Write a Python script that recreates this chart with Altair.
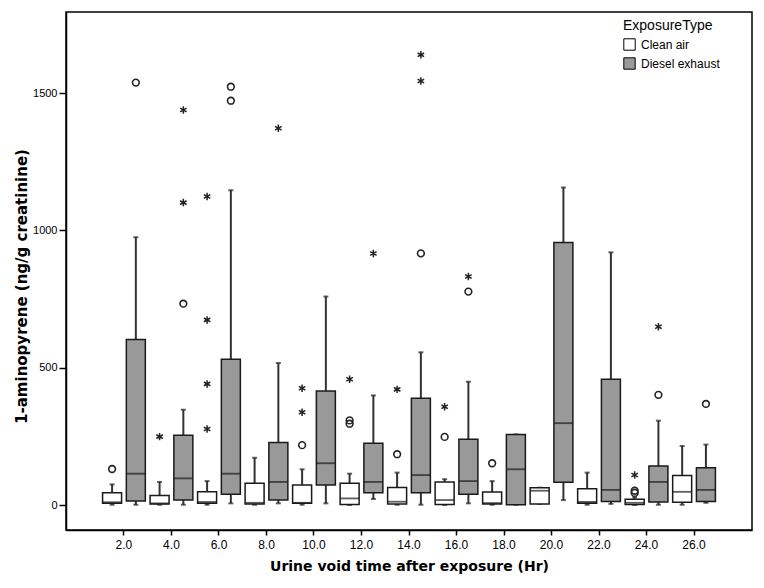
import altair as alt
import pandas as pd

times = ["2.0", "4.0", "6.0", "8.0", "10.0", "12.0", "14.0", "16.0", "18.0", "20.0", "22.0", "24.0", "26.0"]
types = ["Clean air", "Diesel exhaust"]

clean_low = [1, 1, 1, 1, 1, 0, 1, 0, 1, 4, 1, 0, 1]
clean_q1 = [6, 4, 6, 4, 6, 2, 4, 2, 4, 4, 6, 2, 10]
clean_med = [10, 6, 11, 8, 8, 24, 12, 18, 7, 52, 11, 8, 48]
clean_q3 = [45, 35, 48, 79, 73, 79, 64, 84, 47, 63, 59, 21, 107]
clean_high = [75, 84, 87, 172, 130, 114, 118, 94, 87, 63, 118, 28, 215]

diesel_low = [1, 1, 6, 6, 6, 22, 1, 6, 1, 18, 4, 1, 8]
diesel_q1 = [15, 18, 39, 18, 73, 45, 45, 39, 1, 83, 13, 11, 13]
diesel_med = [114, 97, 114, 84, 152, 84, 109, 87, 130, 298, 55, 84, 55]
diesel_q3 = [603, 254, 531, 228, 415, 225, 389, 239, 257, 956, 458, 142, 136]
diesel_high = [975, 347, 1146, 517, 759, 399, 556, 449, 257, 1156, 920, 307, 220]

# outliers (open circles)
out_time = ["2.0", "2.0", "4.0", "6.0", "6.0", "10.0", "12.0", "12.0", "14.0", "14.0",
            "16.0", "16.0", "18.0", "24.0", "24.0", "24.0", "26.0"]
out_type = ["Clean air", "Diesel exhaust", "Diesel exhaust", "Diesel exhaust", "Diesel exhaust",
            "Clean air", "Clean air", "Clean air", "Clean air", "Diesel exhaust",
            "Clean air", "Diesel exhaust", "Clean air", "Clean air", "Clean air",
            "Diesel exhaust", "Diesel exhaust"]
out_value = [131, 1538, 733, 1523, 1472, 218, 296, 308, 185, 916,
             248, 777, 152, 44, 52, 401, 368]

# extremes (asterisks)
ext_time = ["4.0", "4.0", "4.0", "6.0", "6.0", "6.0", "6.0", "8.0", "10.0", "10.0",
            "12.0", "12.0", "14.0", "14.0", "14.0", "16.0", "16.0", "24.0", "24.0"]
ext_type = ["Clean air", "Diesel exhaust", "Diesel exhaust", "Clean air", "Clean air",
            "Clean air", "Clean air", "Diesel exhaust", "Clean air", "Clean air",
            "Clean air", "Diesel exhaust", "Clean air", "Diesel exhaust", "Diesel exhaust",
            "Clean air", "Diesel exhaust", "Clean air", "Diesel exhaust"]
ext_value = [249, 1438, 1101, 1123, 674, 441, 277, 1372, 425, 338,
             458, 916, 421, 1639, 1544, 358, 832, 109, 649]

rows = []
for i, t in enumerate(times):
    rows.append(dict(time=t, type="Clean air", low=clean_low[i], q1=clean_q1[i],
                     med=clean_med[i], q3=clean_q3[i], high=clean_high[i]))
    rows.append(dict(time=t, type="Diesel exhaust", low=diesel_low[i], q1=diesel_q1[i],
                     med=diesel_med[i], q3=diesel_q3[i], high=diesel_high[i]))
boxes = pd.DataFrame(rows)
outs = pd.DataFrame(dict(time=out_time, type=out_type, value=out_value))
exts = pd.DataFrame(dict(time=ext_time, type=ext_type, value=ext_value))

FONT = "Liberation Sans"
TFONT = "DejaVu Sans"
x_enc = alt.X("time:N", sort=times, title="Urine void time after exposure (Hr)",
              scale=alt.Scale(paddingOuter=0.72, paddingInner=0),
              axis=alt.Axis(labelAngle=0, tickSize=5, labelPadding=4, labelFontSize=12,
                            titleFont=TFONT, titleFontSize=14, titleFontWeight="bold",
                            titlePadding=9,
                            domainColor="black", domainWidth=1.5, tickColor="black",
                            tickWidth=1.5, labelColor="black", titleColor="black"))
xo_enc = alt.XOffset("type:N", sort=types, scale=alt.Scale(paddingInner=0, paddingOuter=0))
y_scale = alt.Scale(domain=[-91, 1795], nice=False, zero=False)
y_axis = alt.Axis(values=[0, 500, 1000, 1500], format="d", grid=False, tickSize=7, labelPadding=2,
                  labelFontSize=11, titleFont=TFONT, titleFontSize=15, titleFontWeight="bold",
                  titlePadding=3, titleY=274,
                  domainColor="black", domainWidth=1.5, tickColor="black", tickWidth=1.5,
                  labelColor="black", titleColor="black")

base = alt.Chart(boxes)

whisk_lo = base.mark_rule(color="#333333", strokeWidth=2).encode(
    x=x_enc, xOffset=xo_enc,
    y=alt.Y("low:Q", scale=y_scale, axis=y_axis, title="1-aminopyrene (ng/g creatinine)"),
    y2="q1:Q")
whisk_hi = base.mark_rule(color="#333333", strokeWidth=2).encode(
    x=x_enc, xOffset=xo_enc, y=alt.Y("q3:Q", scale=y_scale), y2="high:Q")
cap_lo = base.mark_tick(color="#222222", size=5, thickness=2).encode(
    x=x_enc, xOffset=xo_enc, y=alt.Y("low:Q", scale=y_scale))
cap_hi = base.mark_tick(color="#222222", size=5, thickness=2).encode(
    x=x_enc, xOffset=xo_enc, y=alt.Y("high:Q", scale=y_scale))
box = base.mark_bar(size=19, stroke="#1a1a1a", strokeWidth=1.5).encode(
    x=x_enc, xOffset=xo_enc, y=alt.Y("q1:Q", scale=y_scale), y2="q3:Q",
    fill=alt.Fill("type:N", sort=types,
                  scale=alt.Scale(domain=types, range=["#ffffff", "#999999"]),
                  legend=alt.Legend(title="ExposureType", orient="none", legendX=557, legendY=7,
                                    symbolType="square", symbolSize=130,
                                    symbolStrokeColor="black", symbolStrokeWidth=1,
                                    titleFontSize=14, titleFontWeight="normal",
                                    labelFontSize=12, rowPadding=2, titlePadding=5,
                                    labelOffset=5, labelColor="black", titleColor="black")))
med = base.mark_tick(color="#1a1a1a", size=19, thickness=1.8).encode(
    x=x_enc, xOffset=xo_enc, y=alt.Y("med:Q", scale=y_scale))

circles = alt.Chart(outs).mark_point(shape="circle", filled=False, color="#222222",
                                     strokeWidth=1.6, size=45, opacity=1).encode(
    x=x_enc, xOffset=xo_enc, y=alt.Y("value:Q", scale=y_scale))
star_path = "M0,-1L0,1M-0.87,-0.5L0.87,0.5M-0.87,0.5L0.87,-0.5"
stars = alt.Chart(exts).mark_point(shape=star_path, filled=False, color="#222222",
                                   strokeWidth=1.5, size=56, opacity=1).encode(
    x=x_enc, xOffset=xo_enc, y=alt.Y("value:Q", scale=y_scale))

chart = alt.layer(whisk_lo, whisk_hi, cap_lo, cap_hi, box, med, circles, stars).properties(
    width=686, height=518,
    padding={"left": 6, "top": 4, "right": 4, "bottom": 2},
    background="white",
).configure(font=FONT).configure_view(stroke="black", strokeWidth=1.5)

chart.save("out.html", embed_options={"renderer": "svg", "actions": False})
